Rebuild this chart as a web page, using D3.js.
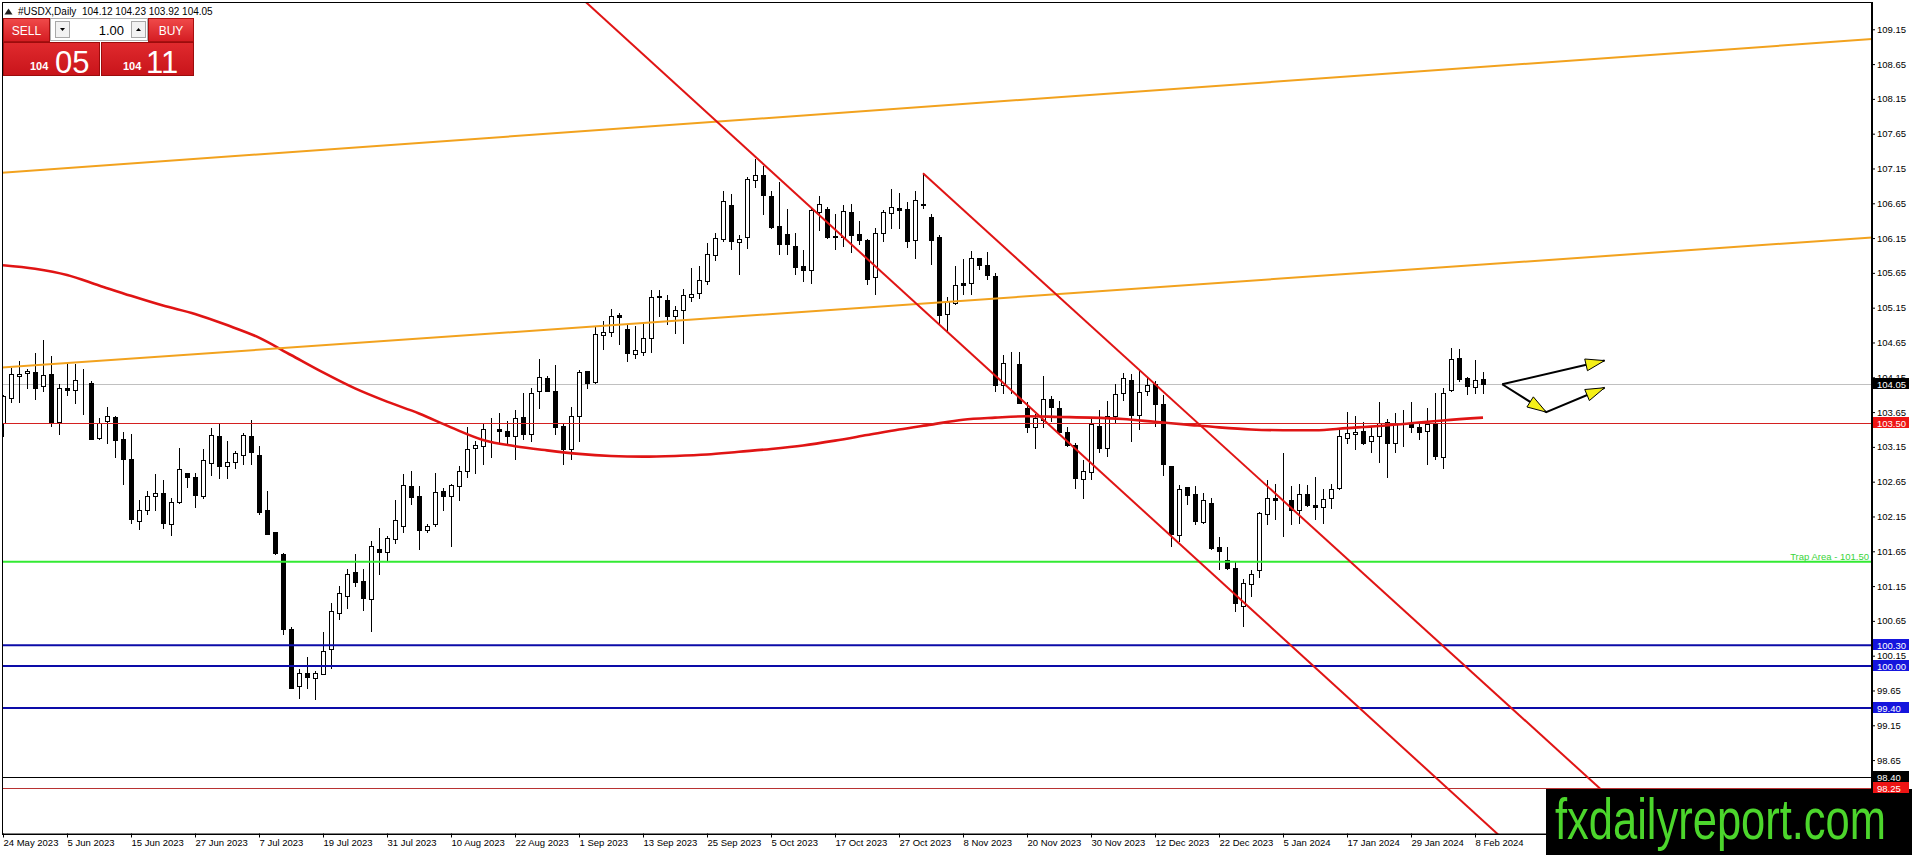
<!DOCTYPE html>
<html>
<head>
<meta charset="utf-8">
<script src="https://cdn.jsdelivr.net/npm/d3@7"></script>
<style>
  body { margin: 0; background: #fff; overflow: hidden; }
  svg { display: block; font-family: "Liberation Sans", Arial, sans-serif; }
</style>
</head>
<body>
<div id="chart"></div>
<script>

// date labels on the time axis, one every 8 bars
var dateLabels = ["24 May 2023", "5 Jun 2023", "15 Jun 2023", "27 Jun 2023", "7 Jul 2023",
  "19 Jul 2023", "31 Jul 2023", "10 Aug 2023", "22 Aug 2023", "1 Sep 2023", "13 Sep 2023",
  "25 Sep 2023", "5 Oct 2023", "17 Oct 2023", "27 Oct 2023", "8 Nov 2023", "20 Nov 2023",
  "30 Nov 2023", "12 Dec 2023", "22 Dec 2023", "5 Jan 2024", "17 Jan 2024", "29 Jan 2024",
  "8 Feb 2024"];
var barsPerLabel = 8;

// price axis labels
var priceTicks = ["109.15", "108.65", "108.15", "107.65", "107.15", "106.65", "106.15", "105.65",
  "105.15", "104.65", "104.15", "103.65", "103.15", "102.65", "102.15", "101.65", "101.15",
  "100.65", "100.15", "99.65", "99.15", "98.65"];

// daily candles, USDX
var opens = [103.49,103.85,104.17,104.21,104.23,104.02,104.20,103.51,104.00,103.97,
  104.10,104.07,103.28,103.52,103.58,103.26,102.97,102.09,102.25,102.44,
  102.49,102.04,102.36,102.78,102.72,102.45,102.92,103.30,102.88,102.93,
  103.04,103.30,103.04,102.25,101.93,101.61,100.54,99.72,99.90,99.83,
  99.89,100.24,100.76,101.01,101.35,101.22,100.96,101.69,101.64,101.82,
  102.02,102.59,102.45,101.96,102.04,102.52,102.44,102.59,102.81,103.13,
  103.16,103.38,103.40,103.38,103.30,103.58,103.33,103.95,104.14,103.96,
  103.45,103.12,103.60,104.24,104.08,104.76,104.80,105.04,104.84,104.49,
  104.51,104.72,105.32,105.26,105.03,105.11,105.30,105.36,105.53,105.91,
  106.13,106.63,106.10,106.16,106.99,107.06,106.75,106.33,106.21,106.04,
  105.75,105.69,106.53,106.57,106.18,106.17,106.53,106.21,106.12,105.59,
  106.23,106.51,106.58,106.57,106.12,106.64,106.46,106.17,105.06,105.22,
  105.50,105.50,105.86,105.77,105.60,104.04,104.34,104.34,103.71,103.43,
  103.53,103.84,103.71,103.37,103.17,102.69,102.79,103.45,103.14,103.60,
  103.92,104.11,103.61,103.95,104.05,103.77,102.87,101.89,102.57,102.47,
  102.07,102.35,101.71,101.52,101.41,100.87,101.18,101.38,102.18,102.42,
  102.39,102.38,102.24,102.48,102.32,102.29,102.41,102.56,103.28,103.33,
  103.38,103.24,103.31,103.51,103.21,103.44,103.48,103.43,103.38,103.48,
  103.01,103.97,104.42,104.14,104.01,104.12];
var highs = [103.90,104.28,104.38,104.27,104.50,104.68,104.46,104.05,104.36,104.34,
  104.27,104.10,103.57,103.72,103.60,103.36,103.34,102.38,102.52,102.76,
  102.67,102.42,103.14,102.78,102.78,103.12,103.42,103.50,103.24,103.09,
  103.35,103.54,103.16,102.52,101.93,101.62,100.56,99.96,100.13,99.93,
  100.49,100.91,101.15,101.39,101.61,101.40,101.80,101.99,101.87,102.38,
  102.76,102.81,102.59,102.04,102.77,102.56,102.62,102.88,103.43,103.24,
  103.48,103.56,103.63,103.52,103.68,103.93,103.99,104.41,104.17,104.33,
  103.49,103.72,104.25,104.24,104.88,104.96,105.13,105.07,104.92,104.89,
  104.94,105.40,105.41,105.33,105.18,105.42,105.72,105.75,106.08,106.22,
  106.82,106.79,106.19,107.03,107.29,107.19,106.83,106.95,106.57,106.22,
  105.98,106.59,106.76,106.60,106.49,106.62,106.64,106.40,106.13,106.29,
  106.55,106.86,106.80,106.67,106.83,107.08,106.49,106.19,105.30,105.75,
  105.85,105.97,105.87,105.95,105.65,104.47,104.52,104.51,103.79,103.62,
  104.17,103.88,103.81,103.43,103.21,102.96,103.55,103.68,103.81,104.05,
  104.21,104.19,104.24,104.15,104.10,103.89,102.88,102.60,102.58,102.59,
  102.49,102.41,101.85,101.71,101.51,101.25,101.38,102.21,102.68,102.61,
  103.06,102.59,102.61,102.60,102.72,102.54,102.62,103.39,103.65,103.60,
  103.51,103.43,103.79,103.55,103.64,103.68,103.79,103.50,103.71,103.92,
  104.00,104.57,104.55,104.15,104.40,104.23];
var lows = [103.31,103.80,103.80,104.00,103.84,103.96,103.45,103.34,103.90,103.78,
  103.62,103.26,103.26,103.20,103.01,102.61,102.05,101.97,102.19,102.25,
  101.98,101.88,102.34,102.58,102.28,102.42,102.75,102.71,102.71,102.84,
  102.91,102.90,102.18,101.90,101.61,100.46,99.69,99.54,99.69,99.53,
  99.88,99.98,100.67,100.84,101.15,100.81,100.50,101.32,101.51,101.77,
  101.92,102.33,101.69,101.92,102.01,102.25,101.73,102.38,102.72,102.77,
  102.90,103.01,103.19,103.18,102.97,103.26,103.24,103.71,103.95,103.33,
  102.90,102.97,103.24,103.99,104.07,104.55,104.75,104.63,104.38,104.43,
  104.47,104.52,105.03,104.92,104.78,104.64,105.24,105.29,105.49,105.84,
  106.11,105.99,105.63,106.01,106.88,106.49,106.30,105.92,105.92,105.63,
  105.54,105.50,106.26,106.15,106.00,106.03,105.95,106.06,105.49,105.34,
  106.11,106.30,106.30,106.02,105.87,106.58,105.78,104.92,104.82,105.20,
  105.35,105.34,105.71,105.56,103.95,103.93,103.93,103.78,103.36,103.14,
  103.44,103.52,103.37,103.16,102.56,102.42,102.69,103.07,103.02,103.50,
  103.83,103.23,103.40,103.90,103.45,102.75,101.72,101.80,102.33,102.04,
  102.06,101.69,101.39,101.40,100.79,100.58,101.01,101.28,102.04,102.11,
  101.87,102.04,102.06,102.30,102.11,102.05,102.27,102.55,103.21,103.12,
  103.19,103.07,102.94,102.72,103.08,103.16,103.36,103.26,102.90,102.97,
  102.85,103.95,104.10,103.91,103.93,103.92];
var closes = [103.88,104.20,104.20,104.24,104.00,104.18,103.49,104.00,103.97,104.11,
  104.10,103.27,103.49,103.59,103.25,102.97,102.11,102.25,102.44,102.49,
  102.05,102.36,102.83,102.72,102.46,102.96,103.32,102.87,102.94,103.06,
  103.32,103.07,102.22,101.90,101.62,100.54,99.69,99.90,99.85,99.90,
  100.22,100.79,101.05,101.33,101.21,100.98,101.72,101.64,101.84,102.10,
  102.60,102.43,101.96,102.02,102.50,102.45,102.60,102.81,103.12,103.18,
  103.40,103.38,103.38,103.30,103.56,103.34,103.93,104.15,103.96,103.44,
  103.12,103.59,104.23,104.07,104.77,104.80,105.03,105.02,104.50,104.54,
  104.72,105.30,105.30,105.03,105.11,105.33,105.35,105.55,105.92,106.15,
  106.68,106.11,106.14,107.00,107.06,106.77,106.31,106.07,106.06,105.74,
  105.69,106.56,106.64,106.16,106.16,106.54,106.20,106.12,105.56,106.23,
  106.53,106.59,106.56,106.11,106.70,106.63,106.12,105.04,105.25,105.48,
  105.48,105.86,105.76,105.62,104.04,104.36,104.34,103.78,103.44,103.56,
  103.84,103.72,103.37,103.17,102.70,102.81,103.48,103.14,103.60,103.91,
  104.14,103.61,103.94,104.04,103.77,102.91,101.90,102.54,102.46,102.08,
  102.38,101.70,101.66,101.41,100.90,101.19,101.33,102.20,102.41,102.38,
  102.38,102.25,102.47,102.32,102.29,102.40,102.54,103.30,103.35,103.37,
  103.20,103.31,103.50,103.21,103.48,103.44,103.43,103.36,103.48,103.02,
  103.92,104.41,104.12,104.03,104.11,104.05];
var askPrice = 104.11;

// moving average, sampled along its path (bar index, value)
var maBars   = [0, 4, 8, 12, 16, 20, 24, 28, 32, 36, 40, 44, 48, 52, 56, 60, 64, 68, 72, 76,
  80, 84, 88, 92, 96, 100, 104, 108, 112, 116, 120, 124, 128, 132, 136, 140, 144, 148, 152,
  156, 160, 164, 168, 172, 176, 180, 185];
var maValues = [105.76, 105.71, 105.62, 105.47, 105.32, 105.18, 105.06, 104.90, 104.72, 104.47,
  104.22, 103.99, 103.80, 103.63, 103.43, 103.25, 103.16, 103.10, 103.05, 103.02,
  103.01, 103.02, 103.04, 103.08, 103.12, 103.17, 103.24, 103.32, 103.40, 103.47,
  103.54, 103.57, 103.59, 103.58, 103.57, 103.55, 103.51, 103.47, 103.43,
  103.40, 103.39, 103.39, 103.42, 103.45, 103.49, 103.53, 103.57];

// trend lines, two anchors each (bar index, price)
var orangeUpper  = [[0, 107.09], [185, 108.61]];
var orangeLower  = [[0, 104.29], [185, 105.77]];
var channelLower = [[70, 109.84], [154, 101.03]];
var channelUpper = [[115, 107.08], [160, 102.38]];

// horizontal levels
var levelValues = [104.05, 103.50, 101.50, 100.30, 100.00, 99.40, 98.40, 98.25];
var levelTags   = ["104.05", "103.50", "", "100.30", "100.00", "99.40", "98.40", "98.25"];
var trapText = "Trap Area - 101.50";

// hand drawn arrows (bar index, price)
var arrowUp   = [[187.4, 104.05], [200.2, 104.39]];
var arrowDown = [[187.4, 104.05], [192.9, 103.65], [200.2, 104.00]];

// styles for the levels, same order as levelValues
var levelStyles = [
  {stroke: "#c0c0c0", width: 1, box: "#000000"},
  {stroke: "#d42020", width: 1, box: "#ee1414"},
  {stroke: "#33ea33", width: 2, box: null},
  {stroke: "#0c0ca8", width: 2, box: "#1515dd"},
  {stroke: "#0c0ca8", width: 2, box: "#1515dd"},
  {stroke: "#0c0ca8", width: 2, box: "#1515dd"},
  {stroke: "#000000", width: 1, box: "#000000"},
  {stroke: "#b83232", width: 1, box: "#ee1414"}
];

// set the dimensions of the plot area
var W = 1912, H = 855;
var plotLeft = 2, plotRight = 1872, plotTop = 2, plotBottom = 834;

// bar index -> x, 8 px per bar
var x = d3.scaleLinear()
    .domain([-0.125, 233.625])
    .range([plotLeft, plotRight]);

var y = d3.scaleLinear()
    .domain([97.588, 109.542])
    .range([plotBottom, plotTop]);

var svg = d3.select("#chart").append("svg")
    .attr("width", W)
    .attr("height", H);

svg.append("rect").attr("width", W).attr("height", H).attr("fill", "#fff");

svg.append("clipPath").attr("id", "plotclip")
  .append("rect")
    .attr("x", plotLeft).attr("y", plotTop)
    .attr("width", plotRight - plotLeft).attr("height", plotBottom - plotTop);

var plot = svg.append("g").attr("clip-path", "url(#plotclip)");

// bid line sits behind the candles
plot.append("line")
    .attr("x1", plotLeft).attr("x2", plotRight)
    .attr("y1", Math.round(y(levelValues[0])) + 0.5)
    .attr("y2", Math.round(y(levelValues[0])) + 0.5)
    .attr("stroke", levelStyles[0].stroke)
    .attr("stroke-width", 1);

// candles
var bars = d3.range(opens.length).map(function(i) {
  return {i: i, o: opens[i], h: highs[i], l: lows[i], c: closes[i]};
});

var candle = plot.selectAll(".candle")
    .data(bars)
  .enter().append("g")
    .attr("class", "candle")
    .attr("shape-rendering", "crispEdges");

candle.append("line")
    .attr("x1", function(d) { return Math.round(x(d.i)) + 0.5; })
    .attr("x2", function(d) { return Math.round(x(d.i)) + 0.5; })
    .attr("y1", function(d) { return Math.round(y(d.h)); })
    .attr("y2", function(d) { return Math.round(y(d.l)) + 1; })
    .attr("stroke", "#000");

candle.append("rect")
    .attr("x", function(d) { return Math.round(x(d.i)) - 1.5; })
    .attr("y", function(d) { return Math.round(y(Math.max(d.o, d.c))) + 0.5; })
    .attr("width", 4)
    .attr("height", function(d) {
      return Math.max(0, Math.round(y(Math.min(d.o, d.c))) - Math.round(y(Math.max(d.o, d.c))));
    })
    .attr("fill", function(d) { return d.c >= d.o ? "#fff" : "#000"; })
    .attr("stroke", "#000");

// moving average
var maLine = d3.line()
    .x(function(d) { return x(d[0]); })
    .y(function(d) { return y(d[1]); })
    .curve(d3.curveMonotoneX);

plot.append("path")
    .datum(d3.zip(maBars, maValues))
    .attr("d", maLine)
    .attr("fill", "none")
    .attr("stroke", "#e01414")
    .attr("stroke-width", 2.6);

// horizontal levels (bid line already drawn)
levelValues.forEach(function(v, k) {
  if (k === 0) return;
  var yy = y(v);
  var w = levelStyles[k].width;
  if (w === 1) yy = Math.round(yy) + 0.5;
  plot.append("line")
      .attr("x1", plotLeft).attr("x2", plotRight)
      .attr("y1", yy).attr("y2", yy)
      .attr("stroke", levelStyles[k].stroke)
      .attr("stroke-width", w);
});

// trend lines, drawn from the first anchor out to the right
function trend(p, fromBar, toBar) {
  var slope = (p[1][1] - p[0][1]) / (p[1][0] - p[0][0]);
  return [[fromBar, p[0][1] + (fromBar - p[0][0]) * slope],
          [toBar,   p[0][1] + (toBar - p[0][0]) * slope]];
}
var straight = d3.line()
    .x(function(d) { return x(d[0]); })
    .y(function(d) { return y(d[1]); });

[[orangeUpper, -2, 240, "#f2a21e"],
 [orangeLower, -2, 240, "#f2a21e"],
 [channelLower, channelLower[0][0], 240, "#e01414"],
 [channelUpper, channelUpper[0][0], 240, "#e01414"]].forEach(function(t) {
  plot.append("path")
      .attr("d", straight(trend(t[0], t[1], t[2])))
      .attr("fill", "none")
      .attr("stroke", t[3])
      .attr("stroke-width", 2);
});

// arrows with yellow heads
function arrowHead(p0, p1) {
  var ax = x(p0[0]), ay = y(p0[1]), bx = x(p1[0]), by = y(p1[1]);
  var len = Math.hypot(bx - ax, by - ay);
  var ux = (bx - ax) / len, uy = (by - ay) / len;
  var L = 19, Hw = 6;
  var cx = bx - ux * L, cy = by - uy * L;
  return [[bx, by], [cx - uy * Hw, cy + ux * Hw], [cx + uy * Hw, cy - ux * Hw]];
}

[arrowUp, arrowDown].forEach(function(a) {
  plot.append("path")
      .attr("d", straight(a))
      .attr("fill", "none")
      .attr("stroke", "#000")
      .attr("stroke-width", 2);
  for (var k = 1; k < a.length; k++) {
    plot.append("polygon")
        .attr("points", arrowHead(a[k - 1], a[k]).map(function(p) { return p.join(","); }).join(" "))
        .attr("fill", "#f5f018")
        .attr("stroke", "#000")
        .attr("stroke-width", 1);
  }
});

// trap area text
svg.append("text")
    .attr("x", plotRight - 3)
    .attr("y", y(levelValues[2]) - 2)
    .attr("text-anchor", "end")
    .attr("font-size", "9.5px")
    .attr("fill", "#3ad43a")
    .text(trapText);

// frame
svg.append("rect")
    .attr("x", plotLeft + 0.5).attr("y", plotTop + 0.5)
    .attr("width", plotRight - plotLeft).attr("height", plotBottom - plotTop)
    .attr("fill", "none").attr("stroke", "#000")
    .attr("shape-rendering", "crispEdges");

// price axis
var yAxis = svg.append("g")
    .attr("transform", "translate(" + (plotRight - 1) + ",0)")
    .call(d3.axisRight(y)
      .tickValues(priceTicks.map(Number))
      .tickSize(4)
      .tickSizeOuter(0)
      .tickFormat(d3.format(".2f")));
yAxis.selectAll("text").attr("font-size", "9.5px").attr("fill", "#000")
    .attr("font-family", "Liberation Sans, Arial, sans-serif").attr("x", 6);
yAxis.select(".domain").attr("stroke", "#000");

// time axis
var xAxis = svg.append("g")
    .attr("transform", "translate(0," + (plotBottom - 0.5) + ")")
    .call(d3.axisBottom(x)
      .tickValues(dateLabels.map(function(d, i) { return i * barsPerLabel; }))
      .tickSize(4)
      .tickSizeOuter(0)
      .tickFormat(function(d, i) { return dateLabels[i]; }));
xAxis.selectAll("text")
    .attr("font-size", "9.5px")
    .attr("fill", "#000")
    .attr("font-family", "Liberation Sans, Arial, sans-serif")
    .attr("text-anchor", "start")
    .attr("x", 0)
    .attr("y", 6);
xAxis.select(".domain").attr("stroke", "#000");

// header line
var last = opens.length - 1;
svg.append("path").attr("d", "M4.5,14.5 L12.5,14.5 L8.5,8.5 Z").attr("fill", "#202020");
svg.append("text").attr("x", 18).attr("y", 15).attr("font-size", "10px").text("#USDX,Daily");
svg.append("text").attr("x", 82).attr("y", 15).attr("font-size", "10px")
    .text([opens[last], highs[last], lows[last], closes[last]].map(function(v) { return v.toFixed(2); }).join(" "));

// one click trading panel
var defs = svg.append("defs");
var g1 = defs.append("linearGradient").attr("id", "btnred").attr("x1", 0).attr("y1", 0).attr("x2", 0).attr("y2", 1);
g1.append("stop").attr("offset", "0").attr("stop-color", "#f04a4a");
g1.append("stop").attr("offset", "1").attr("stop-color", "#d41c22");
var g2 = defs.append("linearGradient").attr("id", "boxred").attr("x1", 0).attr("y1", 0).attr("x2", 0).attr("y2", 1);
g2.append("stop").attr("offset", "0").attr("stop-color", "#e02a2e");
g2.append("stop").attr("offset", "1").attr("stop-color", "#c8141a");

var panel = svg.append("g").attr("shape-rendering", "crispEdges");
panel.append("rect").attr("x", 3.5).attr("y", 18.5).attr("width", 46).attr("height", 23)
    .attr("fill", "url(#btnred)").attr("stroke", "#a81010");
panel.append("rect").attr("x", 148.5).attr("y", 18.5).attr("width", 45).attr("height", 23)
    .attr("fill", "url(#btnred)").attr("stroke", "#a81010");
panel.append("rect").attr("x", 50.5).attr("y", 18.5).attr("width", 97).attr("height", 22)
    .attr("fill", "#fff").attr("stroke", "#b0b0b0");
panel.append("rect").attr("x", 55.5).attr("y", 21.5).attr("width", 14).attr("height", 16)
    .attr("fill", "#f2f2f2").attr("stroke", "#a8a8a8");
panel.append("rect").attr("x", 131.5).attr("y", 21.5).attr("width", 14).attr("height", 16)
    .attr("fill", "#f2f2f2").attr("stroke", "#a8a8a8");
panel.append("rect").attr("x", 3.5).attr("y", 42.5).attr("width", 96).attr("height", 33)
    .attr("fill", "url(#boxred)").attr("stroke", "#9c0c0c");
panel.append("rect").attr("x", 101.5).attr("y", 42.5).attr("width", 92).attr("height", 33)
    .attr("fill", "url(#boxred)").attr("stroke", "#9c0c0c");
svg.append("path").attr("d", "M60,28 L65,28 L62.5,31 Z").attr("fill", "#000");
svg.append("path").attr("d", "M136,31 L141,31 L138.5,28 Z").attr("fill", "#000");

svg.append("text").attr("x", 26.5).attr("y", 35).attr("text-anchor", "middle")
    .attr("font-size", "12px").attr("fill", "#fff").text("SELL");
svg.append("text").attr("x", 171).attr("y", 35).attr("text-anchor", "middle")
    .attr("font-size", "12px").attr("fill", "#fff").text("BUY");
svg.append("text").attr("x", 124).attr("y", 35).attr("text-anchor", "end")
    .attr("font-size", "13px").attr("fill", "#000").text("1.00");

var bidParts = closes[last].toFixed(2).split(".");
var askParts = askPrice.toFixed(2).split(".");
svg.append("text").attr("x", 30).attr("y", 70).attr("font-size", "11px").attr("font-weight", "bold")
    .attr("fill", "#fff").text(bidParts[0]);
svg.append("text").attr("x", 55).attr("y", 73).attr("font-size", "31px")
    .attr("fill", "#fff").text(bidParts[1]);
svg.append("text").attr("x", 123).attr("y", 70).attr("font-size", "11px").attr("font-weight", "bold")
    .attr("fill", "#fff").text(askParts[0]);
svg.append("text").attr("x", 146).attr("y", 73).attr("font-size", "31px")
    .attr("fill", "#fff").text(askParts[1]);

// watermark
svg.append("rect").attr("x", 1546).attr("y", 789).attr("width", 366).attr("height", 66).attr("fill", "#000");
svg.append("text")
    .attr("x", 1555).attr("y", 839)
    .attr("font-size", "58px")
    .attr("textLength", 331)
    .attr("lengthAdjust", "spacingAndGlyphs")
    .attr("fill", "#4cd62c")
    .text("fxdailyreport.com");

// price tags on the axis, on top of everything
levelValues.forEach(function(v, k) {
  if (!levelStyles[k].box) return;
  var yy = Math.round(y(v));
  svg.append("rect")
      .attr("x", plotRight + 1).attr("y", yy - 6)
      .attr("width", 36).attr("height", 11)
      .attr("fill", levelStyles[k].box);
  svg.append("text")
      .attr("x", plotRight + 5).attr("y", yy + 3.5)
      .attr("font-size", "9.5px").attr("fill", "#fff")
      .text(levelTags[k]);
});

</script>
</body>
</html>
